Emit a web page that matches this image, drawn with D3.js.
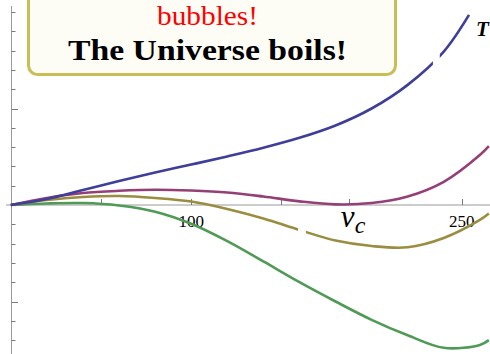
<!DOCTYPE html>
<html>
<head>
<meta charset="utf-8">
<script src="https://cdn.jsdelivr.net/npm/d3@7"></script>
<style>
  html, body { margin: 0; padding: 0; background: #ffffff; }
  svg { display: block; }
</style>
</head>
<body>
<div id="chart"></div>
<script>
// Sample velocities (horizontal axis) shared by most series
const vGrid = [0, 20, 40, 60, 80, 100, 120, 140, 160, 180, 200, 220, 240, 260, 265];
// The rising curve stops a bit earlier
const vBlue = [0, 20, 40, 60, 80, 100, 120, 140, 160, 180, 200, 220, 240, 254];

const seriesBlue   = [0, 0.062, 0.155, 0.249, 0.337, 0.419, 0.503, 0.593, 0.696, 0.824, 1.0, 1.245, 1.59, 1.97];
const seriesPurple = [0, 0.073, 0.124, 0.147, 0.158, 0.150, 0.130, 0.088, 0.038, 0.006, 0.02, 0.088, 0.24, 0.518, 0.61];
const seriesOlive  = [0, 0.052, 0.083, 0.093, 0.073, 0.036, -0.041, -0.14, -0.259, -0.368, -0.425, -0.438, -0.342, -0.155, -0.088];
const seriesGreen  = [0, 0.016, 0.02, -0.005, -0.07, -0.195, -0.375, -0.585, -0.80, -1.0, -1.19, -1.35, -1.48, -1.45, -1.40];

// Breaks drawn in two of the curves (velocity ranges)
const gapBlue  = [234, 237.8];
const gapOlive = [159.2, 163.6];

// Axis ticks
const vCritical = 187.4;
const xTickValues = [50, 100, 150, vCritical, 250];
const xTickLabels = ["", "100", "", "vc", "250"];
const yMinorTicks = d3.range(-7, 11).map(k => k * 0.2);
const yMajorTicks = [-1, 1];

const W = 490, H = 354;
const x = d3.scaleLinear().domain([0, 250]).range([10.8, 461.8]);
const y = d3.scaleLinear().domain([0, 1]).range([205, 108.5]);

const svg = d3.select("#chart").append("svg")
  .attr("width", W).attr("height", H)
  .attr("viewBox", `0 0 ${W} ${H}`);

const axisColor = "#9a9a9a";
const tickColor = "#7a7a7a";

// Axes
const x0 = x(0), y0 = y(0);
svg.append("line").attr("x1", 6).attr("x2", W).attr("y1", y0).attr("y2", y0)
  .attr("stroke", axisColor).attr("stroke-width", 1);
svg.append("line").attr("x1", x0 + 0.7).attr("x2", x0 + 0.7).attr("y1", 6).attr("y2", H)
  .attr("stroke", axisColor).attr("stroke-width", 1);

// y ticks (inward, to the right)
svg.append("g").selectAll("line").data(yMinorTicks.filter(d => Math.abs(d) > 1e-9)).join("line")
  .attr("x1", x0 + 0.7)
  .attr("x2", d => x0 + 0.7 + (yMajorTicks.some(m => Math.abs(m - d) < 1e-9) ? 6.5 : 4))
  .attr("y1", d => Math.round(y(d)) + 0.5).attr("y2", d => Math.round(y(d)) + 0.5)
  .attr("stroke", tickColor).attr("stroke-width", 1);

// x ticks (inward, upward)
svg.append("g").selectAll("line").data(xTickValues).join("line")
  .attr("x1", d => Math.round(x(d)) + 0.5).attr("x2", d => Math.round(x(d)) + 0.5)
  .attr("y1", y0).attr("y2", y0 - 6)
  .attr("stroke", tickColor).attr("stroke-width", 1);

// x tick labels
const serif = "'Liberation Serif', 'DejaVu Serif', serif";
xTickValues.forEach((v, i) => {
  const lab = xTickLabels[i];
  if (!lab) return;
  if (lab === "vc") {
    const t = svg.append("text").attr("x", x(v) - 8).attr("y", 227)
      .attr("font-family", serif).attr("font-style", "italic")
      .attr("font-size", 31).attr("fill", "#000");
    t.append("tspan").text("v");
    t.append("tspan").attr("dy", 6).attr("font-size", 24).text("c");
  } else {
    svg.append("text").attr("x", x(v)).attr("y", 227)
      .attr("text-anchor", "middle")
      .attr("font-family", serif).attr("font-size", 17).attr("fill", "#000")
      .text(lab);
  }
});

// Curves
const defs = svg.append("defs");
function gapClip(id, gap) {
  const cp = defs.append("clipPath").attr("id", id);
  cp.append("rect").attr("x", 0).attr("y", 0).attr("width", x(gap[0])).attr("height", H);
  cp.append("rect").attr("x", x(gap[1])).attr("y", 0).attr("width", W - x(gap[1])).attr("height", H);
}
gapClip("gap-blue", gapBlue);
gapClip("gap-olive", gapOlive);

const line = d3.line().x(d => x(d[0])).y(d => y(d[1])).curve(d3.curveCatmullRom.alpha(0.5));

const curves = [
  { xs: vGrid, ys: seriesGreen,  color: "#4f9a55", clip: null },
  { xs: vGrid, ys: seriesOlive,  color: "#9a8d3f", clip: "gap-olive" },
  { xs: vGrid, ys: seriesPurple, color: "#963f77", clip: null },
  { xs: vBlue, ys: seriesBlue,   color: "#3f3f99", clip: "gap-blue" }
];
curves.forEach(c => {
  const p = svg.append("path")
    .datum(c.xs.map((v, i) => [v, c.ys[i]]))
    .attr("d", line)
    .attr("fill", "none")
    .attr("stroke", c.color)
    .attr("stroke-width", 2.6)
    .attr("stroke-linejoin", "round");
  if (c.clip) p.attr("clip-path", `url(#${c.clip})`);
});

// Annotation box
svg.append("rect")
  .attr("x", 28.5).attr("y", -20).attr("width", 367).attr("height", 94.5)
  .attr("rx", 9).attr("ry", 9)
  .attr("fill", "#fdfdf6").attr("stroke", "#c9bd55").attr("stroke-width", 3);

svg.append("text").attr("x", 207.5).attr("y", 25)
  .attr("text-anchor", "middle")
  .attr("font-family", serif).attr("font-size", 28).attr("fill", "#ff0000")
  .attr("textLength", 101).attr("lengthAdjust", "spacingAndGlyphs")
  .text("bubbles!");

svg.append("text").attr("x", 207.5).attr("y", 60)
  .attr("text-anchor", "middle")
  .attr("font-family", serif).attr("font-size", 30).attr("font-weight", "bold").attr("fill", "#000")
  .attr("textLength", 279).attr("lengthAdjust", "spacingAndGlyphs")
  .text("The Universe boils!");

// Curve label at the right edge
svg.append("text").attr("x", 476).attr("y", 36)
  .attr("font-family", serif).attr("font-style", "italic").attr("font-weight", "bold")
  .attr("font-size", 21).attr("fill", "#000")
  .text("T");
</script>
</body>
</html>
